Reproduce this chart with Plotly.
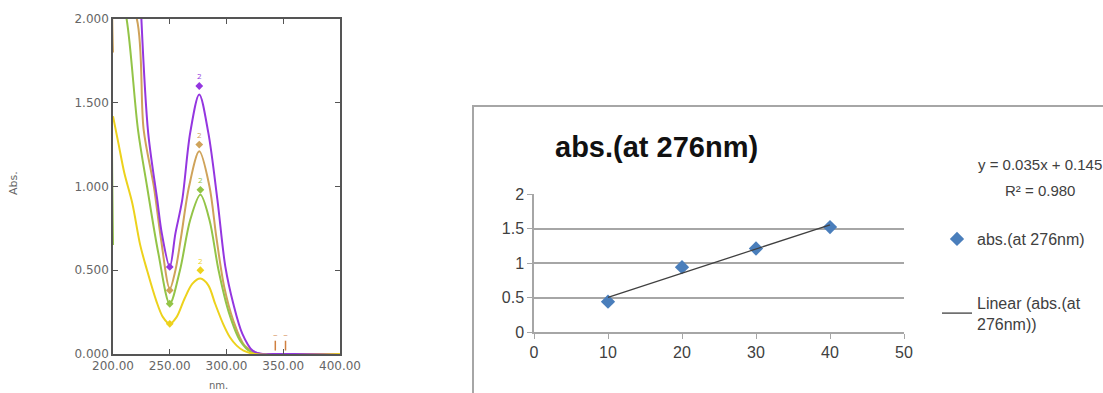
import plotly.graph_objects as go
import numpy as np

W, H = 1103, 393

# ---------------- Left chart: UV spectra ----------------
purple_nm = [225, 231, 239, 243, 250, 255, 261, 268, 276, 284, 292, 299, 306, 314, 323, 332, 340, 400]
purple_abs = [2.0, 1.32, 0.92, 0.72, 0.52, 0.72, 0.92, 1.32, 1.55, 1.32, 0.92, 0.52, 0.30, 0.12, 0.02, 0.0, 0.0, 0.0]

brown_nm = [200, 202, 221, 227, 236, 242, 250, 255, 260, 267, 276, 285, 291, 298, 306, 316, 330, 400]
brown_abs = [1.80, 2.3, 2.0, 1.34, 1.0, 0.70, 0.39, 0.50, 0.70, 1.0, 1.21, 1.0, 0.70, 0.40, 0.20, 0.05, 0.0, 0.0]

green_nm = [200, 202, 212, 222, 230, 240, 250, 259, 268, 277, 285, 293, 302, 312, 322, 330, 400]
green_abs = [0.65, 2.3, 2.0, 1.34, 1.0, 0.60, 0.30, 0.50, 0.80, 0.95, 0.80, 0.50, 0.25, 0.08, 0.01, 0.0, 0.0]

yellow_nm = [200, 205, 210, 217, 224, 230, 238, 244, 250, 256, 263, 270, 277, 284, 290, 297, 303, 309, 315, 325, 400]
yellow_abs = [1.42, 1.25, 1.08, 0.90, 0.65, 0.50, 0.32, 0.22, 0.18, 0.22, 0.33, 0.42, 0.45, 0.41, 0.30, 0.18, 0.10, 0.05, 0.02, 0.0, 0.0]

spec_colors = {"purple": "#9436E0", "brown": "#CFA35A", "green": "#93C447", "yellow": "#EDD21C"}

# peak-pick marks (nm, abs)
pick_purple = ([276, 250], [1.60, 0.52])
pick_brown = ([276, 250], [1.25, 0.38])
pick_green = ([277, 250], [0.98, 0.30])
pick_yellow = ([277, 250], [0.50, 0.18])
pick_small_nm = [343, 352]
pick_small_abs = [0.05, 0.05]

x_ticks_left = [200, 250, 300, 350, 400]
x_ticktext_left = ["200.00", "250.00", "300.00", "350.00", "400.00"]
y_ticks_left = [0, 0.5, 1.0, 1.5, 2.0]
y_ticktext_left = ["0.000", "0.500", "1.000", "1.500", "2.000"]

# ---------------- Right chart: calibration ----------------
conc = [10, 20, 30, 40]
abs276 = [0.44, 0.94, 1.21, 1.52]
eq_text = "y = 0.035x + 0.145"
r2_text = "R² = 0.980"
x_ticks_right = [0, 10, 20, 30, 40, 50]
y_ticks_right = [0, 0.5, 1, 1.5, 2]
y_ticktext_right = ["0", "0.5", "1", "1.5", "2"]


def px(x):
    return x / W


def py(y):
    return 1 - y / H


fig = go.Figure()

left_font = dict(family="DejaVu Sans", size=12, color="#666666")

for name, nm, ab in [("brown", brown_nm, brown_abs), ("green", green_nm, green_abs),
                     ("purple", purple_nm, purple_abs), ("yellow", yellow_nm, yellow_abs)]:
    fig.add_trace(go.Scatter(x=nm, y=ab, mode="lines", xaxis="x", yaxis="y",
                             line=dict(color=spec_colors[name], width=2, shape="spline", smoothing=0.9),
                             showlegend=False, hoverinfo="skip"))

for name, (pn, pa) in [("purple", pick_purple), ("brown", pick_brown),
                       ("green", pick_green), ("yellow", pick_yellow)]:
    fig.add_trace(go.Scatter(x=pn, y=pa, mode="markers+text", xaxis="x", yaxis="y",
                             text=["2", ""], textposition="top center",
                             textfont=dict(size=8, color=spec_colors[name]),
                             marker=dict(size=6, color=spec_colors[name], symbol="diamond"),
                             showlegend=False, hoverinfo="skip"))

fig.add_trace(go.Scatter(x=pick_small_nm, y=pick_small_abs, mode="markers+text", xaxis="x", yaxis="y",
                         text=["~", "~"], textposition="top center",
                         textfont=dict(size=8, color="#D08040"),
                         marker=dict(size=7, color="#D08040", symbol="line-ns-open", line=dict(width=1.5, color="#D08040")),
                         showlegend=False, hoverinfo="skip"))

# right chart traces
fig.add_trace(go.Scatter(x=conc, y=abs276, mode="markers", xaxis="x2", yaxis="y2",
                         name="abs.(at 276nm)",
                         marker=dict(symbol="diamond", size=11, color="#4A7EBB"),
                         legendgroup="a"))
coef = np.polyfit(conc, abs276, 1)
fit_x = [conc[0], conc[-1]]
fit_y = list(np.polyval(coef, fit_x))
fig.add_trace(go.Scatter(x=fit_x, y=fit_y, mode="lines", xaxis="x2", yaxis="y2",
                         name="Linear (abs.(at<br>276nm))",
                         line=dict(color="#404040", width=1.3),
                         legendgroup="b"))

grey = "#A6A6A6"
fig.update_layout(
    width=W, height=H,
    margin=dict(l=0, r=0, t=0, b=0, autoexpand=False),
    paper_bgcolor="white", plot_bgcolor="white",
    xaxis=dict(domain=[px(113), px(340)], range=[200, 400], anchor="y", automargin=False,
               tickvals=x_ticks_left, ticktext=x_ticktext_left,
               ticks="inside", ticklen=5, tickcolor="#555555",
               showline=True, linecolor="#555555", linewidth=1.5, mirror="ticks",
               showgrid=False, zeroline=False, tickfont=left_font),
    yaxis=dict(domain=[py(354), py(19)], range=[0, 2], anchor="x", automargin=False,
               tickvals=y_ticks_left, ticktext=y_ticktext_left,
               ticks="inside", ticklen=5, tickcolor="#555555",
               showline=True, linecolor="#555555", linewidth=1.5, mirror="ticks",
               showgrid=False, zeroline=False, tickfont=left_font),
    xaxis2=dict(domain=[px(534), px(904)], range=[0, 50], anchor="y2", automargin=False,
                tickvals=x_ticks_right, ticks="outside", ticklen=5, tickcolor=grey,
                showline=True, linecolor=grey, linewidth=1.5, showgrid=False, zeroline=False,
                tickfont=dict(family="Liberation Sans", size=16, color="#404040")),
    yaxis2=dict(domain=[py(332), py(194)], range=[0, 2], anchor="x2", automargin=False,
                tickvals=y_ticks_right, ticktext=y_ticktext_right,
                ticks="outside", ticklen=5, tickcolor=grey,
                showline=True, linecolor=grey, linewidth=1.5,
                showgrid=True, gridcolor=grey, gridwidth=1.5, zeroline=False,
                tickfont=dict(family="Liberation Sans", size=16, color="#404040")),
    showlegend=True,
    legend=dict(x=px(937), y=py(222), xanchor="left", yanchor="top",
                bgcolor="rgba(0,0,0,0)", tracegroupgap=40,
                font=dict(family="Liberation Sans", size=16, color="#404040")),
    shapes=[dict(type="rect", xref="paper", yref="paper",
                 x0=px(473), x1=px(1115), y0=py(405), y1=py(106),
                 line=dict(color=grey, width=2), fillcolor="rgba(0,0,0,0)", layer="below")],
    annotations=[
        dict(text="abs.(at 276nm)", xref="paper", yref="paper", x=px(553), y=py(147),
             xanchor="left", yanchor="middle", showarrow=False,
             font=dict(family="Liberation Sans", size=29, color="#111111", weight="bold")),
        dict(text=eq_text, xref="paper", yref="paper", x=px(1040), y=py(165),
             xanchor="center", yanchor="middle", showarrow=False,
             font=dict(family="Liberation Sans", size=15, color="#404040")),
        dict(text=r2_text, xref="paper", yref="paper", x=px(1040), y=py(190),
             xanchor="center", yanchor="middle", showarrow=False,
             font=dict(family="Liberation Sans", size=15, color="#404040")),
        dict(text="Abs.", xref="paper", yref="paper", x=px(13), y=py(183),
             xanchor="center", yanchor="middle", showarrow=False, textangle=-90,
             font=dict(family="DejaVu Sans", size=11, color="#666666")),
        dict(text="nm.", xref="paper", yref="paper", x=px(218), y=py(393),
             xanchor="center", yanchor="bottom", showarrow=False,
             font=dict(family="DejaVu Sans", size=10, color="#666666")),
    ],
)

fig.write_html("out.html")
